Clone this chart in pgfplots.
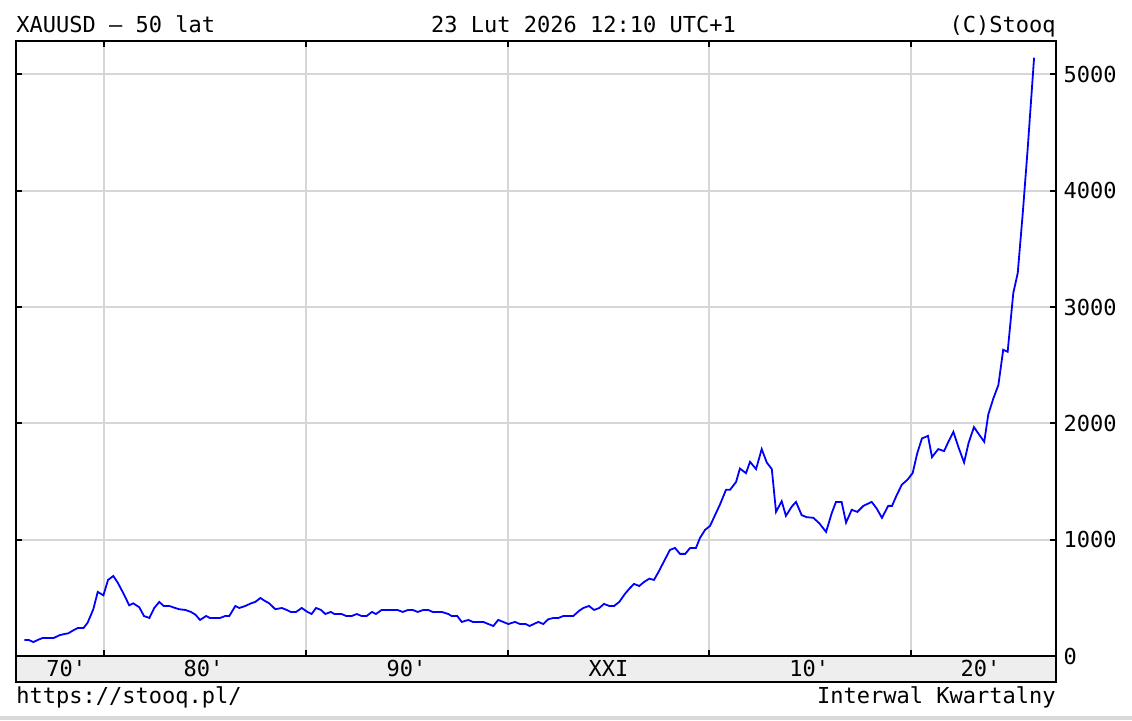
\documentclass[border=0pt]{standalone}
\usepackage{fontspec}
\setmonofont{DejaVu Sans Mono}
\renewcommand{\familydefault}{\ttdefault}
\usepackage{pgfplots}
\usepackage{pgfplotstable}
\pgfplotsset{compat=1.18}
\definecolor{gridc}{RGB}{214,214,214}
\definecolor{bandc}{RGB}{238,238,238}
\pgfplotstableread{
year value
1976.05 138
1976.27 138
1976.50 120
1976.71 138
1976.96 155
1977.23 155
1977.51 155
1977.78 178
1978.03 189
1978.23 195
1978.45 218
1978.70 241
1978.99 241
1979.19 287
1979.47 402
1979.69 551
1979.97 522
1980.20 654
1980.46 688
1980.68 631
1980.96 539
1981.25 436
1981.45 453
1981.75 419
1981.98 344
1982.25 327
1982.49 413
1982.74 465
1982.96 430
1983.24 430
1983.53 413
1983.73 402
1984.03 396
1984.31 379
1984.53 356
1984.76 310
1985.06 344
1985.25 327
1985.50 327
1985.75 327
1986.01 344
1986.21 344
1986.51 430
1986.71 413
1987.00 430
1987.29 453
1987.50 465
1987.75 499
1987.95 476
1988.19 453
1988.49 402
1988.81 413
1989.06 396
1989.25 379
1989.52 379
1989.80 413
1990.08 379
1990.29 361
1990.51 413
1990.76 396
1990.97 361
1991.24 379
1991.42 361
1991.78 361
1992.00 344
1992.28 344
1992.53 361
1992.77 344
1993.02 344
1993.28 379
1993.48 361
1993.76 396
1994.03 396
1994.28 396
1994.54 396
1994.81 379
1995.07 396
1995.30 396
1995.55 379
1995.83 396
1996.07 396
1996.29 379
1996.51 379
1996.74 379
1997.07 361
1997.23 344
1997.51 344
1997.73 293
1998.06 310
1998.28 293
1998.54 293
1998.80 293
1999.05 275
1999.30 258
1999.54 310
1999.79 293
2000.04 275
2000.37 293
2000.62 275
2000.90 275
2001.10 258
2001.30 275
2001.53 293
2001.77 275
2002.02 316
2002.27 327
2002.52 327
2002.77 344
2003.00 344
2003.26 344
2003.56 390
2003.76 413
2004.04 430
2004.29 396
2004.55 413
2004.78 448
2005.05 430
2005.28 430
2005.54 465
2005.82 534
2006.04 579
2006.27 620
2006.53 602
2006.77 637
2007.03 665
2007.26 654
2007.52 734
2007.81 832
2008.05 912
2008.30 929
2008.55 878
2008.81 878
2009.05 929
2009.34 929
2009.54 1015
2009.79 1084
2010.04 1119
2010.24 1194
2010.53 1302
2010.83 1429
2011.03 1429
2011.33 1497
2011.52 1612
2011.82 1572
2012.02 1670
2012.32 1607
2012.60 1779
2012.85 1664
2013.10 1607
2013.31 1239
2013.59 1331
2013.80 1205
2014.09 1285
2014.30 1325
2014.58 1211
2014.83 1194
2015.16 1188
2015.45 1142
2015.79 1067
2016.07 1228
2016.28 1325
2016.56 1325
2016.78 1147
2017.06 1257
2017.34 1239
2017.64 1291
2018.05 1325
2018.30 1268
2018.56 1188
2018.87 1291
2019.06 1291
2019.29 1383
2019.55 1474
2019.82 1515
2020.08 1572
2020.31 1744
2020.54 1870
2020.84 1893
2021.04 1710
2021.35 1779
2021.64 1762
2021.86 1845
2022.10 1928
2022.34 1801
2022.63 1664
2022.86 1836
2023.12 1968
2023.37 1905
2023.63 1842
2023.83 2077
2024.08 2214
2024.33 2330
2024.57 2633
2024.79 2616
2025.07 3121
2025.29 3293
2025.54 3810
2025.78 4355
2026.10 5144
}\golddata
\begin{document}
\fontsize{11pt}{13pt}\selectfont
\begin{tikzpicture}[x=1pt,y=1pt]
\path[use as bounding box] (0,0) rectangle (566,360);
\fill[white] (0,0) rectangle (566,360);
\fill[gray!30] (0,0) rectangle (566,2);
% bottom band
\fill[bandc] (8,19) rectangle (528,32);
\draw[line width=1pt] (8,19) rectangle (528,32);
\begin{axis}[
  at={(8pt,32pt)}, anchor=south west,
  scale only axis, width=520pt, height=307.5pt,
  xmin=1975.638, xmax=2027.187, ymin=0, ymax=5288,
  axis line style={line width=1pt},
  xtick={1980,1990,2000,2010,2020}, xticklabels={},
  ytick={0,1000,2000,3000,4000,5000},
  yticklabel pos=right,
  scaled y ticks=false,
  yticklabel style={font=\fontsize{11pt}{13pt}\selectfont, anchor=west, xshift=0pt,
    /pgf/number format/assume math mode=true, /pgf/number format/1000 sep={}},
  tick align=inside,
  major tick length=3.2pt,
  tick style={black, line width=1pt},
  xmajorgrids, ymajorgrids,
  grid style={gridc, line width=1pt},
  clip mode=individual,
]
\addplot[blue, line width=0.9pt, mark=none] table[x=year, y=value] {\golddata};
\node[anchor=base, inner sep=0pt] at (axis cs:1978.13,0) [yshift=-10.35pt] {70'};
\node[anchor=base, inner sep=0pt] at (axis cs:1984.93,0) [yshift=-10.35pt] {80'};
\node[anchor=base, inner sep=0pt] at (axis cs:1994.99,0) [yshift=-10.35pt] {90'};
\node[anchor=base, inner sep=0pt] at (axis cs:2005.00,0) [yshift=-10.35pt] {XXI};
\node[anchor=base, inner sep=0pt] at (axis cs:2014.96,0) [yshift=-10.35pt] {10'};
\node[anchor=base, inner sep=0pt] at (axis cs:2023.44,0) [yshift=-10.35pt] {20'};
\end{axis}
\node[anchor=base west, inner sep=0pt] at (8,344) {XAUUSD — 50 lat};
\node[anchor=base, inner sep=0pt] at (291.75,344) {23 Lut 2026 12:10 UTC+1};
\node[anchor=base east, inner sep=0pt] at (528,344) {(C)Stooq};
\node[anchor=base west, inner sep=0pt] at (8,8.5) {https://stooq.pl/};
\node[anchor=base east, inner sep=0pt] at (528,8.5) {Interwal Kwartalny};
\end{tikzpicture}
\end{document}
